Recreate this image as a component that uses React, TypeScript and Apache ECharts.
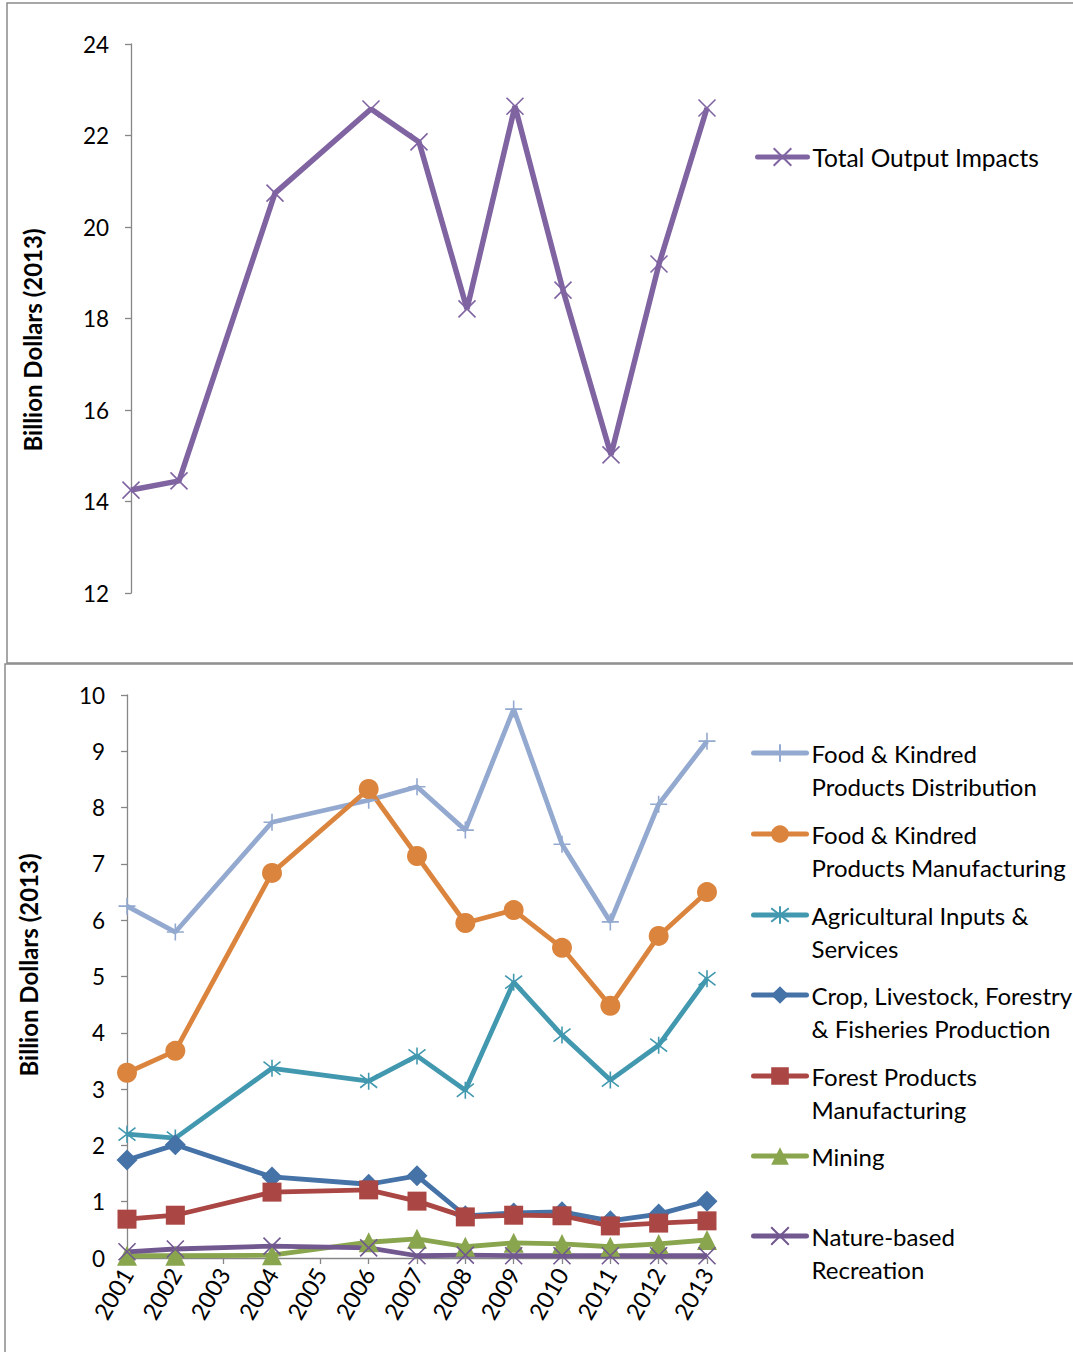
import React, { useEffect, useRef } from "react";
import * as echarts from "echarts";

// Years on the category axis (2003 and 2005 have no observations)
const years = ["2001", "2002", "2003", "2004", "2005", "2006", "2007", "2008", "2009", "2010", "2011", "2012", "2013"];

// Billion dollars (2013)
const totalOutput = [14.25, 14.45, null, 20.74, null, 22.58, 21.86, 18.21, 22.64, 18.62, 15.02, 19.19, 22.6];

const foodDistribution = [6.25, 5.79, null, 7.74, null, 8.13, 8.37, 7.6, 9.75, 7.35, 5.97, 8.06, 9.18];
const foodManufacturing = [3.29, 3.68, null, 6.84, null, 8.33, 7.14, 5.95, 6.18, 5.51, 4.48, 5.72, 6.5];
const agInputs = [2.2, 2.13, null, 3.37, null, 3.14, 3.59, 2.98, 4.9, 3.96, 3.16, 3.78, 4.96];
const cropLivestock = [1.74, 2.01, null, 1.44, null, 1.31, 1.46, 0.75, 0.8, 0.82, 0.66, 0.78, 1.01];
const forestProducts = [0.69, 0.76, null, 1.17, null, 1.21, 1.01, 0.73, 0.76, 0.75, 0.57, 0.62, 0.66];
const mining = [0.04, 0.04, null, 0.05, null, 0.28, 0.34, 0.2, 0.27, 0.25, 0.2, 0.25, 0.32];
const natureRecreation = [0.11, 0.16, null, 0.21, null, 0.18, 0.04, 0.05, 0.04, 0.04, 0.04, 0.04, 0.04];

const topTicks = { min: 12, max: 24, interval: 2 };
const bottomTicks = { min: 0, max: 10, interval: 1 };

const FONT = "Lato, 'Open Sans', sans-serif";
const AXIS_GREY = "#868686";

const CROSS = "path://M0,0L10,10M10,0L0,10";
const PLUS = "path://M5,0L5,10M0,5L10,5";
const STAR = "path://M0,0L10,10M10,0L0,10M5,-1.5L5,11.5";

type SeriesDef = {
  name: string;
  label: string;
  data: (number | null)[];
  color: string;
  symbol: string;
  size: number;
  stroked: boolean;
};

const bottomSeries: SeriesDef[] = [
  { name: "Food & Kindred Products Distribution", label: "Food & Kindred\nProducts Distribution", data: foodDistribution, color: "#93A9CF", symbol: PLUS, size: 17, stroked: true },
  { name: "Food & Kindred Products Manufacturing", label: "Food & Kindred\nProducts Manufacturing", data: foodManufacturing, color: "#DB843D", symbol: "circle", size: 20, stroked: false },
  { name: "Agricultural Inputs & Services", label: "Agricultural Inputs &\nServices", data: agInputs, color: "#4198AF", symbol: STAR, size: 17, stroked: true },
  { name: "Crop, Livestock, Forestry & Fisheries Production", label: "Crop, Livestock, Forestry\n& Fisheries Production", data: cropLivestock, color: "#4572A7", symbol: "diamond", size: 21, stroked: false },
  { name: "Forest Products Manufacturing", label: "Forest Products\nManufacturing", data: forestProducts, color: "#AA4643", symbol: "rect", size: 19, stroked: false },
  { name: "Mining", label: "Mining\n ", data: mining, color: "#89A54E", symbol: "triangle", size: 20, stroked: false },
  { name: "Nature-based Recreation", label: "Nature-based\nRecreation", data: natureRecreation, color: "#71588F", symbol: CROSS, size: 17, stroked: true },
];

// first-line centre of each legend entry in the lower panel
const legendRows = [753, 834, 915, 995, 1076, 1156, 1236];
const LEGEND_LINE = 33;

function makeSeries(def: SeriesDef, gridIndex: number, width: number) {
  return {
    type: "line",
    name: def.name,
    data: def.data,
    xAxisIndex: gridIndex,
    yAxisIndex: gridIndex,
    connectNulls: true,
    symbol: def.symbol,
    symbolSize: def.size,
    showAllSymbol: true,
    lineStyle: { color: def.color, width },
    itemStyle: def.stroked
      ? { color: "rgba(0,0,0,0)", borderColor: def.color, borderWidth: 1.6 }
      : { color: def.color, borderColor: def.color, borderWidth: 0 },
    emphasis: { disabled: true },
  };
}

export default function App() {
  const ref = useRef<HTMLDivElement>(null);

  useEffect(() => {
    if (!ref.current) return;
    const chart = echarts.init(ref.current, undefined, { renderer: "svg" });

    const totalDef: SeriesDef = {
      name: "Total Output Impacts",
      label: "Total Output Impacts",
      data: totalOutput,
      color: "#8064A2",
      symbol: CROSS,
      size: 17,
      stroked: true,
    };

    // a blank leading line keeps the first text line level with the legend icon
    const labelMap: Record<string, string> = {};
    bottomSeries.forEach((s) => (labelMap[s.name] = " \n" + s.label));

    const yAxisCommon = {
      type: "value",
      splitLine: { show: false },
      axisLine: { show: true, lineStyle: { color: AXIS_GREY, width: 1.3 } },
      axisTick: { show: true, length: 6, lineStyle: { color: AXIS_GREY, width: 1.3 } },
      axisLabel: { color: "#000", fontSize: 22.5, fontFamily: FONT, margin: 22 },
    };

    const legendCommon = {
      padding: 0,
      itemWidth: 53,
      itemHeight: 22,
      selectedMode: false,
      lineStyle: { width: 5, cap: "round" },
    };

    const titleStyle = {
      text: "Billion Dollars (2013)",
      fontSize: 24,
      fontWeight: "bold",
      fontFamily: FONT,
      fill: "#000",
      align: "center",
      verticalAlign: "middle",
    };

    const option: any = {
      animation: false,
      backgroundColor: "#fff",
      graphic: [
        { type: "rect", shape: { x: 7, y: 3, width: 1080, height: 660 }, style: { fill: "none", stroke: "#8a8a8a", lineWidth: 1.5 }, silent: true },
        { type: "rect", shape: { x: 5, y: 664, width: 1080, height: 700 }, style: { fill: "none", stroke: "#8a8a8a", lineWidth: 1.5 }, silent: true },
        { type: "text", x: 32, y: 340, rotation: Math.PI / 2, style: titleStyle },
        { type: "text", x: 28, y: 965, rotation: Math.PI / 2, style: titleStyle },
      ],
      grid: [
        { left: 131, top: 44, width: 576, height: 549 },
        { left: 127, top: 695, width: 580, height: 563 },
      ],
      xAxis: [
        { type: "category", gridIndex: 0, data: years, boundaryGap: false, show: false },
        {
          type: "category",
          gridIndex: 1,
          data: years,
          boundaryGap: false,
          axisLine: { show: true, lineStyle: { color: AXIS_GREY, width: 1.3 } },
          axisTick: { show: true, length: 6, interval: 0, lineStyle: { color: AXIS_GREY, width: 1.3 } },
          axisLabel: { interval: 0, rotate: 60, color: "#000", fontSize: 23.5, fontFamily: FONT, margin: 12 },
        },
      ],
      yAxis: [
        { ...yAxisCommon, gridIndex: 0, min: topTicks.min, max: topTicks.max, interval: topTicks.interval },
        { ...yAxisCommon, gridIndex: 1, min: bottomTicks.min, max: bottomTicks.max, interval: bottomTicks.interval },
      ],
      legend: [
        {
          ...legendCommon,
          data: [totalDef.name],
          left: 755,
          itemWidth: 50,
          top: 157 - 15,
          textStyle: { fontSize: 24.5, fontFamily: FONT, color: "#000", lineHeight: 30 },
        },
        ...bottomSeries.map((s, i) => ({
          ...legendCommon,
          data: [s.name],
          left: 751,
          top: legendRows[i] - 1.5 * LEGEND_LINE,
          formatter: (name: string) => labelMap[name] || name,
          textStyle: { fontSize: 24, fontFamily: FONT, color: "#000", lineHeight: LEGEND_LINE },
        })),
      ],
      series: [makeSeries(totalDef, 0, 5.5), ...bottomSeries.map((s) => makeSeries(s, 1, 4.8))],
    };

    chart.setOption(option);
    return () => chart.dispose();
  }, []);

  return <div ref={ref} style={{ position: "absolute", left: 0, top: 0, width: 1073, height: 1352 }} />;
}
